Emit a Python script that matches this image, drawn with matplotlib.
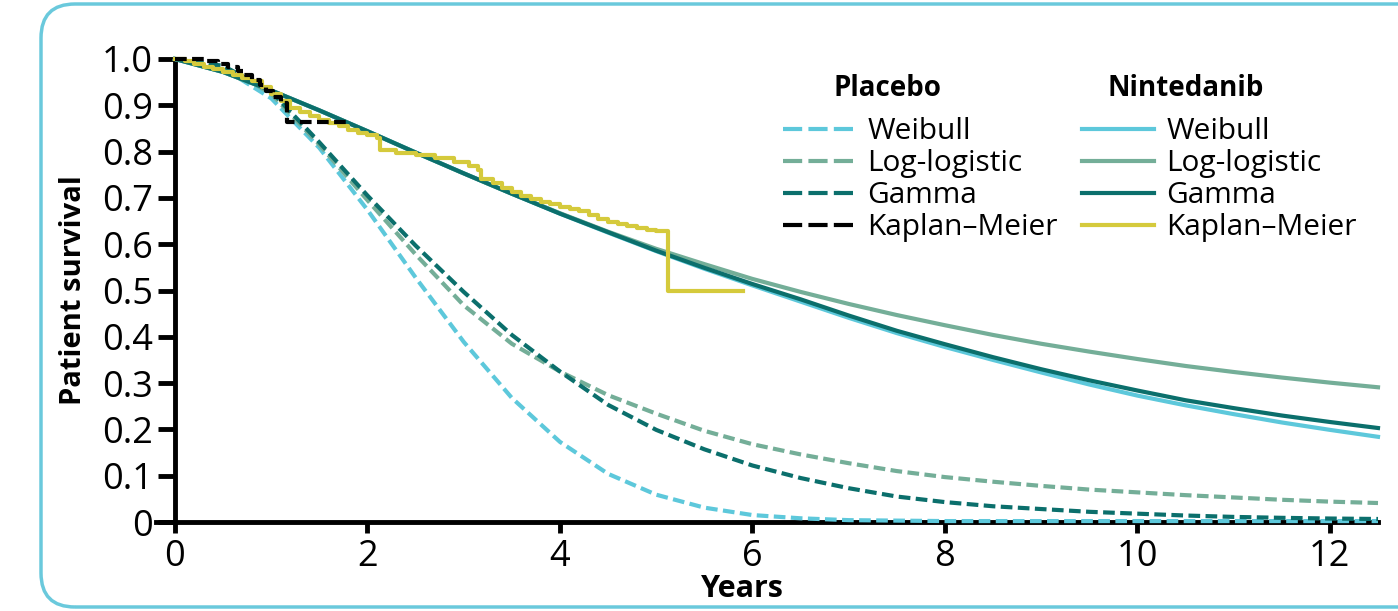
import matplotlib.pyplot as plt
from matplotlib.patches import FancyBboxPatch
from matplotlib.lines import Line2D

plt.rcParams['font.family'] = ['Open Sans', 'DejaVu Sans']

W, H = 1398, 611

# survival curves, every half year
years = [0, 0.5, 1, 1.5, 2, 2.5, 3, 3.5, 4, 4.5, 5, 5.5, 6, 6.5, 7, 7.5,
         8, 8.5, 9, 9.5, 10, 10.5, 11, 11.5, 12, 12.5]

pla_weibull = [1.0, 0.980, 0.915, 0.808, 0.674, 0.528, 0.389, 0.268, 0.173, 0.104,
               0.059, 0.031, 0.015, 0.008, 0.004, 0.003, 0.002, 0.002, 0.002, 0.002,
               0.002, 0.002, 0.002, 0.002, 0.002, 0.002]
pla_loglog = [1.0, 0.985, 0.925, 0.815, 0.695, 0.578, 0.468, 0.385, 0.325, 0.274,
              0.234, 0.197, 0.168, 0.146, 0.127, 0.110, 0.097, 0.087, 0.078, 0.070,
              0.064, 0.058, 0.053, 0.048, 0.044, 0.041]
pla_gamma = [1.0, 0.985, 0.930, 0.820, 0.705, 0.597, 0.497, 0.404, 0.325, 0.253,
             0.199, 0.157, 0.122, 0.095, 0.073, 0.055, 0.043, 0.034, 0.028, 0.022,
             0.018, 0.014, 0.011, 0.009, 0.0075, 0.0065]

nin_weibull = [1.0, 0.972, 0.932, 0.889, 0.844, 0.798, 0.753, 0.709, 0.666, 0.625,
               0.585, 0.547, 0.511, 0.476, 0.441, 0.408, 0.378, 0.350, 0.323, 0.297,
               0.273, 0.252, 0.233, 0.215, 0.199, 0.184]
nin_loglog = [1.0, 0.972, 0.932, 0.889, 0.844, 0.798, 0.753, 0.709, 0.667, 0.627,
              0.590, 0.557, 0.525, 0.497, 0.471, 0.447, 0.425, 0.404, 0.385, 0.368,
              0.352, 0.337, 0.324, 0.312, 0.301, 0.291]
nin_gamma = [1.0, 0.972, 0.932, 0.889, 0.844, 0.798, 0.753, 0.709, 0.666, 0.626,
             0.586, 0.549, 0.514, 0.481, 0.446, 0.413, 0.384, 0.356, 0.330, 0.306,
             0.284, 0.263, 0.246, 0.230, 0.216, 0.203]

# Kaplan-Meier steps
pla_km_t = [0, 0.3, 0.45, 0.55, 0.65, 0.72, 0.8, 0.88, 0.95, 1.02, 1.1, 1.16, 1.8]
pla_km_s = [1.0, 0.995, 0.99, 0.983, 0.975, 0.965, 0.955, 0.943, 0.93, 0.918, 0.905, 0.865, 0.865]

nin_km_t = [0, 0.1, 0.2, 0.3, 0.4, 0.5, 0.6, 0.7, 0.8, 0.9, 1.0, 1.1, 1.2, 1.3, 1.4,
            1.5, 1.6, 1.7, 1.8, 1.9, 2.0, 2.1, 2.13, 2.3, 2.5, 2.7, 2.9, 3.05, 3.15,
            3.18, 3.3, 3.4, 3.5, 3.6, 3.7, 3.8, 3.9, 4.0, 4.1, 4.2, 4.3, 4.4, 4.5,
            4.6, 4.7, 4.8, 4.9, 5.0, 5.12, 5.9]
nin_km_s = [1.0, 0.995, 0.99, 0.983, 0.978, 0.972, 0.966, 0.96, 0.952, 0.94, 0.925,
            0.91, 0.895, 0.885, 0.876, 0.868, 0.862, 0.855, 0.847, 0.84, 0.835, 0.83,
            0.803, 0.798, 0.793, 0.786, 0.777, 0.768, 0.76, 0.74, 0.733, 0.722, 0.712,
            0.705, 0.698, 0.692, 0.686, 0.68, 0.676, 0.672, 0.662, 0.655, 0.648,
            0.644, 0.639, 0.635, 0.631, 0.628, 0.5, 0.5]

yticks = [0, 0.1, 0.2, 0.3, 0.4, 0.5, 0.6, 0.7, 0.8, 0.9, 1.0]
ytick_labels = ['0', '0.1', '0.2', '0.3', '0.4', '0.5', '0.6', '0.7', '0.8', '0.9', '1.0']
xticks = [0, 2, 4, 6, 8, 10, 12]

c_weib = '#5dc8db'
c_ll = '#74ae98'
c_gam = '#0b6f6c'
c_km = '#d5ca3c'
dash = (2.8, 1.3)
leg_dash = (4.6, 1.5)
lw = 3

fig = plt.figure(figsize=(W / 100, H / 100), dpi=100)

# rounded frame round the whole figure
bg = fig.add_axes([0, 0, 1, 1])
bg.set_xlim(0, W)
bg.set_ylim(0, H)
bg.axis('off')
bg.add_patch(FancyBboxPatch((41, 4), 1420, 603, boxstyle='round,pad=0,rounding_size=34',
                            fill=False, ec='#6ac9dc', lw=2.5))

x0_px, x1_px = 175, 1378
px_per_yr = (x1_px - x0_px) / 12.5
left_px = x0_px - 0.2 * px_per_yr
ax = fig.add_axes([left_px / W, (H - 522) / H, (x1_px - left_px) / W, 463 / H])
ax.set_xlim(-0.2, 12.5)
ax.set_ylim(0, 1.0)

kw = dict(lw=lw, zorder=3, clip_on=False)
ax.plot(years, pla_weibull, color=c_weib, dashes=dash, **kw)
ax.plot(years, pla_loglog, color=c_ll, dashes=dash, **kw)
ax.plot(years, pla_gamma, color=c_gam, dashes=dash, **kw)
ax.plot(years, nin_weibull, color=c_weib, **kw)
ax.plot(years, nin_loglog, color=c_ll, **kw)
ax.plot(years, nin_gamma, color=c_gam, **kw)
ax.plot(nin_km_t, nin_km_s, color=c_km, drawstyle='steps-post', **kw)
ax.plot(pla_km_t, pla_km_s, color='black', dashes=dash, drawstyle='steps-post', **kw)

for s in ['top', 'right']:
    ax.spines[s].set_visible(False)
ax.spines['left'].set_position(('data', 0))
ax.spines['left'].set_linewidth(3.5)
ax.spines['bottom'].set_linewidth(3.5)

ax.set_yticks(yticks, ytick_labels)
ax.set_xticks(xticks, [str(t) for t in xticks])
ax.tick_params(axis='y', length=12, width=3.5, pad=4, labelsize=26)
ax.tick_params(axis='x', length=8, width=3.5, pad=4, labelsize=26)

ax.text(-0.067, 0.5, 'Patient survival', transform=ax.transAxes, rotation=90,
        ha='center', va='center', fontsize=21, fontweight='bold')
ax.text(0.48, -0.145, 'Years', transform=ax.transAxes, ha='center', va='center',
        fontsize=22, fontweight='bold')

labels = ['Weibull', 'Log-logistic', 'Gamma', 'Kaplan\u2013Meier']
pla_handles = [Line2D([], [], color=c, lw=lw, dashes=leg_dash) for c in [c_weib, c_ll, c_gam, 'black']]
nin_handles = [Line2D([], [], color=c, lw=lw) for c in [c_weib, c_ll, c_gam, c_km]]

leg_kw = dict(loc='upper left', frameon=False, borderpad=0, borderaxespad=0,
              handlelength=2.4, handletextpad=0.43, labelspacing=0.1, fontsize=21.5)
fig.legend(pla_handles, labels, bbox_to_anchor=(783 / W, 1 - 117 / H), **leg_kw)
fig.legend(nin_handles, labels, bbox_to_anchor=(1082 / W, 1 - 117 / H), **leg_kw)
fig.text(833 / W, 1 - 89 / H, 'Placebo', ha='left', va='center', fontsize=20, fontweight='bold')
fig.text(1107 / W, 1 - 89 / H, 'Nintedanib', ha='left', va='center', fontsize=20, fontweight='bold')

plt.savefig('out.png', dpi=100)
